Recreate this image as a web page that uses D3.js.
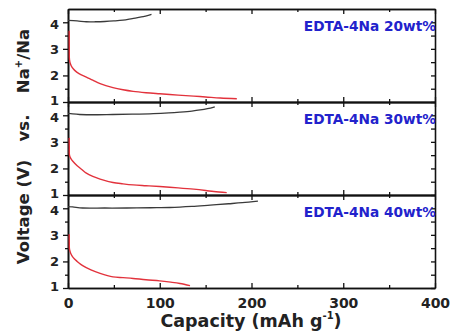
<!DOCTYPE html>
<html>
<head>
<meta charset="utf-8">
<script src="https://cdn.jsdelivr.net/npm/d3@7"></script>
<style>
  body { margin: 0; background: #fff; }
  text { font-family: "DejaVu Sans", sans-serif; font-weight: bold; }
</style>
</head>
<body>
<svg id="chart"></svg>
<script>
// panel labels, top to bottom
const panelLabels = ["EDTA-4Na 20wt%", "EDTA-4Na 30wt%", "EDTA-4Na 40wt%"];

// charge curves [capacity, voltage]
const charge20 = [[0,4.07],[10,4.05],[20,4.02],[30,4.02],[40,4.03],[50,4.05],[60,4.08],[70,4.14],[80,4.2],[91,4.3]];
const charge30 = [[0,4.07],[5,4.05],[12.7,4.03],[30,4.02],[49,4.03],[70,4.04],[93,4.06],[110,4.09],[122,4.12],[135,4.16],[144,4.2],[152,4.25],[160,4.32]];
const charge40 = [[0,4.06],[5,4.05],[16,4.01],[40,4.01],[64,4.01],[90,4.02],[111,4.03],[135,4.07],[155,4.12],[175,4.17],[190,4.21],[207,4.27]];

// discharge curves [capacity, voltage]
const discharge20 = [[1.3,3.68],[1.4,3.0],[1.6,2.6],[2.6,2.44],[4.5,2.3],[7.3,2.19],[12,2.07],[20,1.94],[27,1.82],[35,1.69],[49,1.54],[60,1.46],[71,1.4],[85,1.35],[100,1.31],[120,1.26],[137,1.22],[150,1.19],[166,1.15],[184,1.12]];
const discharge30 = [[1.3,3.15],[1.4,2.8],[1.6,2.5],[3,2.38],[5.5,2.26],[10,2.1],[15,1.96],[20,1.82],[27,1.7],[35,1.6],[49,1.47],[60,1.42],[71,1.38],[85,1.35],[100,1.32],[120,1.27],[137,1.22],[150,1.17],[159,1.13],[173,1.09]];
const discharge40 = [[1.3,3.02],[1.4,2.7],[1.6,2.46],[3,2.3],[5.5,2.15],[10,2.0],[16,1.84],[25,1.68],[35,1.55],[49,1.42],[60,1.39],[71,1.36],[85,1.31],[100,1.27],[112,1.22],[122,1.17],[133,1.09]];

const chargeSeries = [charge20, charge30, charge40];
const dischargeSeries = [discharge20, discharge30, discharge40];

const xMajor = [0, 100, 200, 300, 400];
const xMinor = [50, 150, 250, 350];
const yMajor = [1, 2, 3, 4];
const yMinor = [1.5, 2.5, 3.5];

const width = 461;
const height = 336;
const plotLeft = 68, plotRight = 435, plotTop = 9, plotBottom = 288;
const panelH = (plotBottom - plotTop) / 3;

const svg = d3.select("#chart").attr("width", width).attr("height", height);

const xScale = d3.scaleLinear().domain([0, 400]).range([plotLeft, plotRight]);

const line = (yScale) => d3.line()
    .x(d => xScale(d[0]))
    .y(d => yScale(d[1]))
    .curve(d3.curveCatmullRom.alpha(0.5));

const styleAxis = (g) => {
    g.select(".domain").attr("stroke", "#111").attr("stroke-width", 1.6);
    g.selectAll(".tick line").attr("stroke", "#111").attr("stroke-width", 1.3);
    g.selectAll(".tick text").attr("font-size", 14).attr("fill", "#222")
     .attr("font-family", "DejaVu Sans").attr("font-weight", "bold");
}

panelLabels.forEach((label, i) => {
    const y0 = plotTop + i * panelH;
    const yScale = d3.scaleLinear().domain([1, 4.5]).range([y0 + panelH, y0]);
    const p = svg.append("g");

    // left axis
    p.append("g").attr("transform", `translate(${plotLeft},0)`)
     .call(d3.axisLeft(yScale).tickValues(yMajor).tickSizeInner(5).tickSizeOuter(0).tickPadding(4).tickFormat(d3.format("d")))
     .call(styleAxis)
     .call(g => g.selectAll(".tick text").attr("font-size", 13)
        .attr("dy", d => d === 1 ? "0.2em" : d === 4 ? "0.46em" : "0.34em"));
    p.append("g").attr("transform", `translate(${plotLeft},0)`)
     .call(d3.axisLeft(yScale).tickValues(yMinor).tickSizeInner(3).tickSizeOuter(0).tickFormat(""))
     .call(styleAxis);

    // right axis, inward ticks
    p.append("g").attr("transform", `translate(${plotRight},0)`)
     .call(d3.axisRight(yScale).tickValues(yMajor.concat(yMinor)).tickSizeInner(-4).tickSizeOuter(0).tickFormat(""))
     .call(styleAxis);

    // top axis, inward ticks
    p.append("g").attr("transform", `translate(0,${y0})`)
     .call(d3.axisTop(xScale).tickValues(xMajor).tickSizeInner(-5).tickSizeOuter(0).tickFormat(""))
     .call(styleAxis);
    p.append("g").attr("transform", `translate(0,${y0})`)
     .call(d3.axisTop(xScale).tickValues(xMinor).tickSizeInner(-3).tickSizeOuter(0).tickFormat(""))
     .call(styleAxis);

    // bottom axis, inward ticks
    const last = i === panelLabels.length - 1;
    p.append("g").attr("transform", `translate(0,${y0 + panelH})`)
     .call(d3.axisBottom(xScale).tickValues(xMajor).tickSizeInner(-5).tickSizeOuter(0).tickPadding(last ? 10 : 3)
        .tickFormat(last ? d3.format("d") : ""))
     .call(styleAxis);
    p.append("g").attr("transform", `translate(0,${y0 + panelH})`)
     .call(d3.axisBottom(xScale).tickValues(xMinor).tickSizeInner(-3).tickSizeOuter(0).tickFormat(""))
     .call(styleAxis);

    // curves
    p.append("path")
     .attr("d", line(yScale)(dischargeSeries[i]))
     .attr("fill", "none").attr("stroke", "#e2323c").attr("stroke-width", 1.4);
    p.append("path")
     .attr("d", line(yScale)(chargeSeries[i]))
     .attr("fill", "none").attr("stroke", "#3a3a3a").attr("stroke-width", 1.3);

    // panel label
    p.append("text")
     .attr("x", plotRight + 1).attr("y", y0 + 22)
     .attr("text-anchor", "end")
     .attr("font-size", 13.7)
     .attr("fill", "#2222cc")
     .text(label);
});

// y axis title (three pieces)
const yTitle = svg.append("g").attr("font-size", 16.5).attr("fill", "#222");
yTitle.append("text")
   .attr("transform", "translate(29,212) rotate(-90)")
   .attr("text-anchor", "middle")
   .text("Voltage (V)");
yTitle.append("text")
   .attr("transform", "translate(29,128) rotate(-90)")
   .attr("text-anchor", "middle")
   .text("vs.");
const na = yTitle.append("text")
   .attr("transform", "translate(29,61) rotate(-90)")
   .attr("text-anchor", "middle");
na.append("tspan").text("Na");
na.append("tspan").attr("font-size", 10).attr("dy", -7).text("+");
na.append("tspan").attr("dy", 7).text("/Na");

// x axis title
const xt = svg.append("text")
   .attr("x", 251).attr("y", 327)
   .attr("text-anchor", "middle")
   .attr("font-size", 17.5)
   .attr("fill", "#222");
xt.append("tspan").text("Capacity (mAh g");
xt.append("tspan").attr("font-size", 10).attr("dy", -8).text("-1");
xt.append("tspan").attr("dy", 8).text(")");
</script>
</body>
</html>
